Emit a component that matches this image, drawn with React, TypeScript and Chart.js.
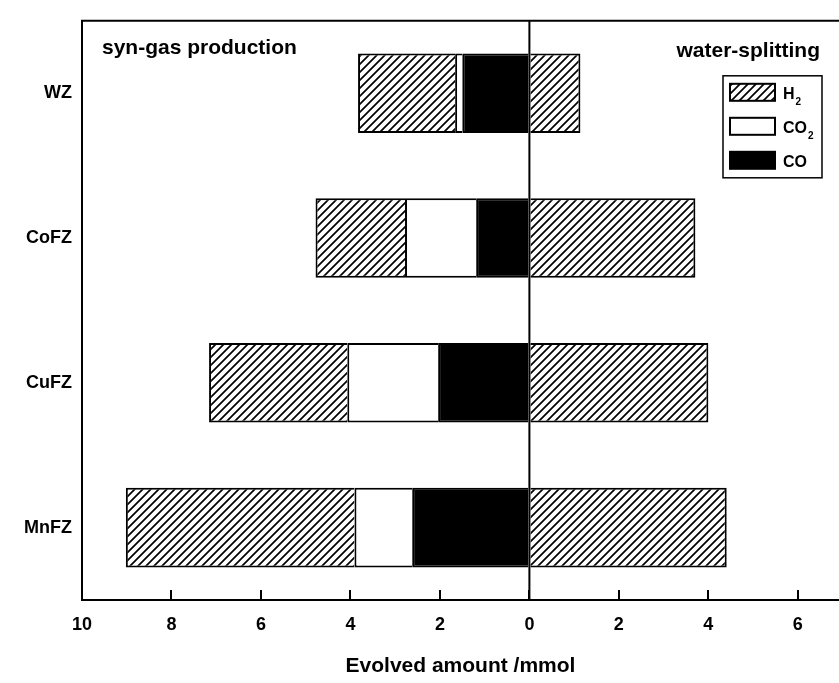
import React, { useEffect, useRef } from "react";
import { Chart, registerables } from "chart.js";

Chart.register(...registerables);

// ---- data ----
const categories = ["WZ", "CoFZ", "CuFZ", "MnFZ"];
const synCO = [-1.5, -1.19, -2.04, -2.62];
const synCO2 = [-0.16, -1.59, -2.03, -1.29];
const synH2 = [-2.17, -2.0, -3.09, -5.11];
const waterH2 = [1.14, 3.71, 4.0, 4.41];
const xTicks = [-10, -8, -6, -4, -2, 0, 2, 4, 6];
const xMin = -10;
const xMax = 6.92;
const legendMain = ["H", "CO", "CO"];
const legendSub = ["2", "2", ""];
const legendDatasetIndex = [2, 1, 0];

const FONT = '"Liberation Sans", Arial, sans-serif';

function makeHatch(ctx: CanvasRenderingContext2D): CanvasPattern | string {
  const s = 8;
  const c = document.createElement("canvas");
  c.width = s;
  c.height = s;
  const g = c.getContext("2d");
  if (!g) return "#fff";
  g.fillStyle = "#fff";
  g.fillRect(0, 0, s, s);
  g.strokeStyle = "#000";
  g.lineWidth = 1.7;
  g.beginPath();
  g.moveTo(0, s);
  g.lineTo(s, 0);
  g.moveTo(-1, 1);
  g.lineTo(1, -1);
  g.moveTo(s - 1, s + 1);
  g.lineTo(s + 1, s - 1);
  g.stroke();
  return ctx.createPattern(c, "repeat") || "#fff";
}

const decorPlugin = {
  id: "decor",
  afterDatasetsDraw(chart: any) {
    const { ctx, chartArea } = chart;
    const x0 = chart.scales.x.getPixelForValue(0);
    ctx.save();
    ctx.strokeStyle = "#000";
    ctx.lineWidth = 2;
    ctx.beginPath();
    ctx.moveTo(x0, chartArea.top);
    ctx.lineTo(x0, chartArea.bottom);
    ctx.stroke();
    ctx.restore();
  },
  afterDraw(chart: any) {
    const { ctx, chartArea } = chart;
    const ds = chart.data.datasets;
    ctx.save();
    // top frame line
    ctx.strokeStyle = "#000";
    ctx.lineWidth = 2;
    ctx.beginPath();
    ctx.moveTo(chartArea.left - 1, chartArea.top);
    ctx.lineTo(chartArea.right, chartArea.top);
    ctx.stroke();

    // annotations
    ctx.fillStyle = "#000";
    ctx.font = `bold 21px ${FONT}`;
    ctx.textBaseline = "alphabetic";
    ctx.textAlign = "left";
    ctx.fillText("syn-gas production", chartArea.left + 20, chartArea.top + 33);
    ctx.textAlign = "right";
    ctx.fillText("water-splitting", chartArea.right - 19, chartArea.top + 36);

    // legend
    const bx = chartArea.right - 116;
    const by = chartArea.top + 55;
    ctx.lineWidth = 1.5;
    ctx.strokeRect(bx, by, 99, 102);
    legendMain.forEach((lab, i) => {
      const d = ds[legendDatasetIndex[i]];
      const sx = bx + 7;
      const sy = by + 8 + i * 34;
      ctx.fillStyle = d.backgroundColor;
      ctx.fillRect(sx, sy, 45, 17);
      ctx.strokeStyle = "#000";
      ctx.lineWidth = 2;
      ctx.strokeRect(sx, sy, 45, 17);
      ctx.fillStyle = "#000";
      ctx.textAlign = "left";
      ctx.font = `bold 16px ${FONT}`;
      ctx.fillText(lab, sx + 53, sy + 15);
      const w = ctx.measureText(lab).width;
      if (legendSub[i]) {
        ctx.font = `bold 10px ${FONT}`;
        ctx.fillText(legendSub[i], sx + 53 + w + 1, sy + 21);
      }
    });
    ctx.restore();
  },
};

export default function App() {
  const ref = useRef<HTMLCanvasElement | null>(null);

  useEffect(() => {
    const canvas = ref.current;
    if (!canvas) return;
    const ctx = canvas.getContext("2d");
    if (!ctx) return;
    const hatch = makeHatch(ctx);

    const common = {
      borderColor: "#000",
      borderWidth: 2,
      borderSkipped: "start",
      inflateAmount: 0,
      barPercentage: 0.55,
      categoryPercentage: 1,
    };

    const chart = new Chart(canvas, {
      type: "bar",
      data: {
        labels: categories,
        datasets: [
          { label: "CO", data: synCO, backgroundColor: "#000", ...common },
          { label: "CO2", data: synCO2, backgroundColor: "#fff", ...common },
          { label: "H2", data: synH2, backgroundColor: hatch, ...common },
          { label: "H2 water", data: waterH2, backgroundColor: hatch, ...common },
        ] as any,
      },
      options: {
        indexAxis: "y",
        animation: false,
        responsive: false,
        layout: { padding: { top: 19, left: 0, right: 0, bottom: 0 } },
        plugins: {
          legend: { display: false },
          tooltip: { enabled: false },
        },
        scales: {
          x: {
            type: "linear",
            stacked: true,
            min: xMin,
            max: xMax,
            afterBuildTicks: (scale: any) => {
              scale.ticks = xTicks.map((v) => ({ value: v }));
            },
            afterFit: (scale: any) => {
              scale.height = 83;
            },
            ticks: {
              color: "#000",
              font: { family: FONT, size: 18, weight: "bold" },
              padding: 24,
              maxRotation: 0,
              autoSkip: false,
              callback: (v: any) => String(Math.abs(Number(v))),
            },
            grid: {
              display: true,
              drawOnChartArea: false,
              color: "#000",
              lineWidth: 2,
              tickColor: "#000",
              tickWidth: 2,
              tickLength: -10,
            },
            border: { display: true, color: "#000", width: 2 },
            title: {
              display: true,
              text: "Evolved amount /mmol",
              color: "#000",
              font: { family: FONT, size: 21, weight: "bold" },
              padding: { top: 0, bottom: 4 },
            },
          },
          y: {
            type: "category",
            stacked: true,
            afterFit: (scale: any) => {
              scale.width = 82;
            },
            ticks: {
              color: "#000",
              font: { family: FONT, size: 18, weight: "bold" },
              padding: 10,
            },
            grid: { display: false, drawTicks: false },
            border: { display: true, color: "#000", width: 2 },
          },
        },
      } as any,
      plugins: [decorPlugin],
    });

    return () => chart.destroy();
  }, []);

  return (
    <div style={{ position: "absolute", left: 0, top: 0, width: 839, height: 683, background: "#fff" }}>
      <canvas ref={ref} width={839} height={683} />
    </div>
  );
}
